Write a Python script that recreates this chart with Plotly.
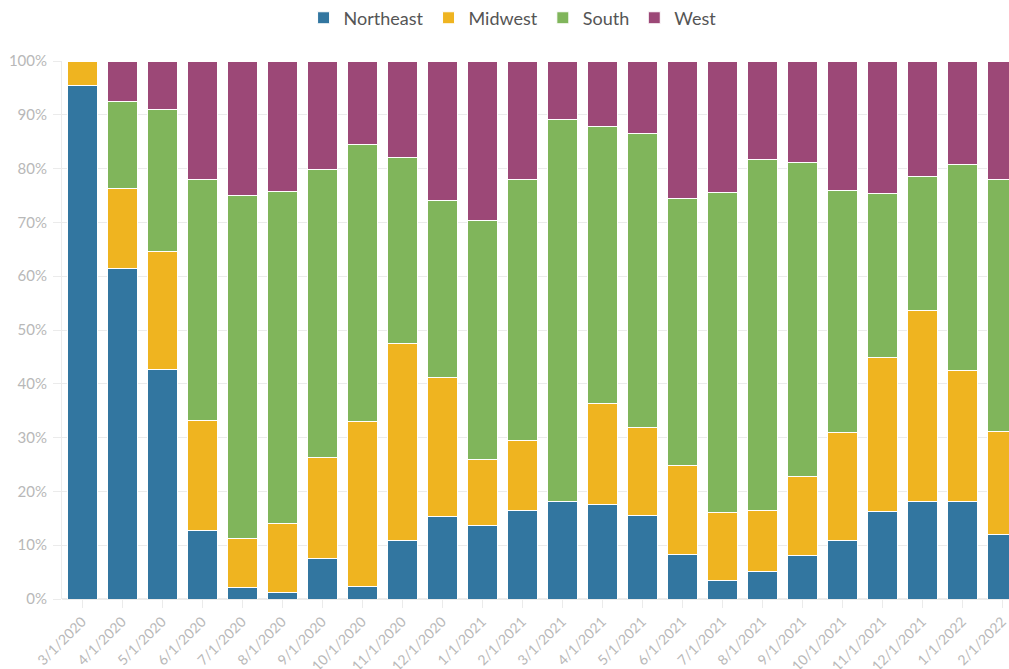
import plotly.graph_objects as go

months = ['3/1/2020', '4/1/2020', '5/1/2020', '6/1/2020', '7/1/2020', '8/1/2020',
          '9/1/2020', '10/1/2020', '11/1/2020', '12/1/2020', '1/1/2021', '2/1/2021',
          '3/1/2021', '4/1/2021', '5/1/2021', '6/1/2021', '7/1/2021', '8/1/2021',
          '9/1/2021', '10/1/2021', '11/1/2021', '12/1/2021', '1/1/2022', '2/1/2022']

# share of each region, percent
northeast = [95.5, 61.4, 42.6, 12.7, 2.2, 1.3, 7.6, 2.4, 10.9, 15.4, 13.7, 16.5,
             18.1, 17.6, 15.6, 8.3, 3.4, 5.2, 8.0, 10.9, 16.2, 18.2, 18.2, 12.0]
midwest = [4.5, 14.9, 22.0, 20.4, 9.1, 12.7, 18.7, 30.6, 36.5, 25.7, 12.2, 13.0,
           0.0, 18.8, 16.2, 16.6, 12.6, 11.3, 14.7, 20.0, 28.6, 35.4, 24.3, 19.2]
south = [0.0, 16.1, 26.4, 44.8, 63.7, 61.7, 53.5, 51.4, 34.7, 32.9, 44.4, 48.5,
         71.1, 51.5, 54.8, 49.6, 59.6, 65.2, 58.4, 45.0, 30.6, 25.0, 38.3, 46.8]
west = [0.0, 7.6, 9.0, 22.1, 25.0, 24.3, 20.2, 15.6, 17.9, 26.0, 29.7, 22.0,
        10.8, 12.1, 13.4, 25.5, 24.4, 18.3, 18.9, 24.1, 24.6, 21.4, 19.2, 22.0]

series = [
    ('Northeast', northeast, '#3276a0'),
    ('Midwest', midwest, '#efb420'),
    ('South', south, '#80b55b'),
    ('West', west, '#9c4877'),
]

fig = go.Figure()
for name, vals, color in series:
    fig.add_trace(go.Bar(
        name=name,
        x=months,
        y=vals,
        marker=dict(color=color, line=dict(color='white', width=1)),
    ))

grid = '#ebebeb'
fig.update_layout(
    width=1009,
    height=669,
    barmode='stack',
    barnorm='percent',
    bargap=0.25,
    plot_bgcolor='white',
    paper_bgcolor='white',
    font=dict(family='Lato', color='#555555'),
    margin=dict(l=62, r=0, t=61, b=70, autoexpand=False),
    legend=dict(
        orientation='h',
        xref='container', yref='container',
        x=0.508, xanchor='center',
        y=0.973, yanchor='middle',
        font=dict(size=18, color='#555555'),
        itemwidth=30,
        traceorder='normal',
        itemclick=False,
    ),
)
fig.update_xaxes(
    type='category',
    range=[-0.5, 23.175],
    automargin=False,
    tickangle=-45,
    ticks='outside',
    ticklen=8,
    tickcolor=grid,
    tickfont=dict(size=14, color='#b8b8b8'),
    showgrid=False,
    showline=False,
)
fig.update_yaxes(
    range=[0, 100],
    dtick=10,
    ticksuffix='%',
    automargin=False,
    ticks='outside',
    ticklen=8,
    tickcolor=grid,
    ticklabelstandoff=3,
    tickfont=dict(size=15, color='#b8b8b8'),
    gridcolor=grid,
    showline=True,
    linecolor=grid,
    zeroline=True,
    zerolinecolor=grid,
)

# drop the default body margin so the 1009x669 figure fills the window
fig.write_html("out.html", config={'displayModeBar': False},
               post_script="document.body.style.margin='0';")
